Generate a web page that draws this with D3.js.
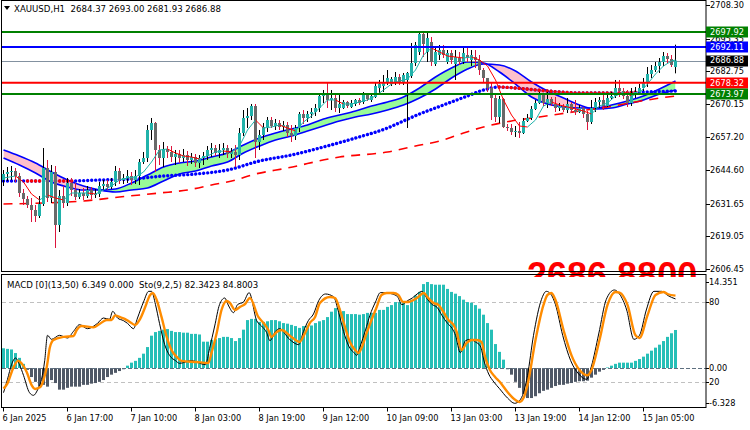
<!DOCTYPE html>
<html><head><meta charset="utf-8">
<script src="https://cdnjs.cloudflare.com/ajax/libs/d3/7.8.5/d3.min.js"></script>
<style>
html,body{margin:0;padding:0;background:#fff;}
svg{display:block;}
text{font-family:"DejaVu Sans",sans-serif;font-size:8.2px;white-space:pre;}
</style></head><body>
<svg id="chart" width="750" height="430"></svg>
<script>
// ---------------- DATA ----------------
const symbolTitle = "XAUUSD,H1  2684.37 2693.00 2681.93 2686.88";
const subTitle = "MACD [0](13,50) 6.349 0.000  Sto(9,2,5) 82.3423 84.8003";
const bigPriceText = "2686.8800";
const timeLabels = ["6 Jan 2025","6 Jan 17:00","7 Jan 10:00","8 Jan 03:00","8 Jan 19:00","9 Jan 12:00","10 Jan 09:00","13 Jan 03:00","13 Jan 19:00","14 Jan 12:00","15 Jan 05:00"];
const timeLabelBars = [0,16,32,48,64,80,96,112,128,144,160];
const priceTicks = [2708.30,2695.35,2682.75,2670.15,2657.20,2644.60,2631.65,2619.05,2606.45];
const levelPrices = [2697.92,2692.11,2678.32,2673.97];
const bidPrice = 2686.88;

const opens = [2640.79,2643.10,2643.87,2644.26,2642.33,2635.77,2633.46,2631.14,2629.21,2626.90,
2631.53,2645.42,2633.84,2643.87,2623.42,2634.61,2631.91,2639.63,2636.93,2634.23,
2635.77,2634.61,2636.93,2635.00,2635.39,2638.47,2639.24,2638.09,2640.01,2644.26,
2640.79,2641.56,2642.33,2640.79,2642.33,2647.73,2649.27,2660.08,2662.78,2652.36,
2649.27,2652.75,2651.59,2649.66,2650.82,2649.27,2650.43,2648.50,2649.66,2647.34,
2649.27,2650.05,2652.36,2653.13,2651.20,2652.36,2653.13,2650.82,2651.59,2650.43,
2658.92,2664.71,2665.48,2669.33,2655.45,2658.15,2661.23,2663.93,2661.62,2662.78,
2661.23,2662.00,2658.92,2657.76,2660.85,2666.25,2664.71,2666.25,2667.02,2668.56,
2673.19,2673.96,2671.65,2672.42,2668.56,2668.56,2670.88,2668.95,2670.11,2671.65,
2670.88,2673.58,2671.65,2672.81,2676.28,2677.05,2678.21,2677.82,2678.59,2680.52,
2678.21,2679.37,2680.91,2685.92,2690.17,2697.11,2690.17,2694.03,2685.54,2689.01,
2690.94,2686.31,2689.78,2685.54,2687.85,2686.31,2689.01,2687.08,2688.24,2687.08,
2683.22,2680.14,2676.28,2672.42,2665.09,2672.03,2661.23,2660.85,2659.30,2659.69,
2658.92,2663.55,2664.71,2668.18,2670.49,2673.58,2670.49,2672.03,2670.11,2668.56,
2669.33,2667.79,2670.11,2667.79,2667.02,2668.56,2666.25,2663.16,2668.56,2670.88,
2671.65,2669.33,2672.42,2673.19,2676.28,2675.12,2673.19,2670.49,2673.58,2674.74,
2676.28,2678.21,2681.68,2683.22,2684.77,2686.31,2688.62,2687.47,2684.37];
const highs = [2644.64,2645.80,2646.19,2645.42,2643.49,2637.31,2634.61,2633.84,2631.14,2634.61,
2653.13,2648.50,2646.57,2646.19,2636.93,2638.47,2641.56,2641.56,2639.63,2637.31,
2637.70,2638.47,2638.09,2637.31,2640.01,2640.79,2640.79,2641.56,2646.19,2645.42,
2643.10,2644.64,2643.87,2644.64,2648.89,2651.59,2662.00,2664.71,2663.16,2654.29,
2655.45,2653.90,2653.90,2652.36,2652.36,2652.75,2651.97,2651.20,2650.82,2650.43,
2651.59,2653.90,2655.06,2654.29,2654.67,2655.06,2654.29,2653.13,2654.29,2660.85,
2667.79,2668.56,2670.11,2670.11,2660.08,2662.78,2665.09,2665.09,2664.32,2663.93,
2663.55,2663.16,2662.00,2662.00,2667.02,2667.79,2667.40,2668.56,2670.11,2674.35,
2675.51,2678.21,2675.51,2674.35,2673.58,2671.65,2671.26,2671.65,2672.03,2672.42,
2674.74,2674.35,2673.96,2678.59,2679.37,2681.30,2683.22,2680.52,2682.45,2681.68,
2682.07,2682.45,2693.64,2694.03,2697.92,2697.50,2697.50,2695.96,2691.71,2692.87,
2692.87,2690.94,2690.94,2690.94,2690.17,2691.71,2691.71,2690.94,2690.94,2689.01,
2684.00,2680.14,2678.21,2674.35,2673.19,2672.42,2662.39,2662.39,2661.62,2663.16,
2664.71,2666.25,2669.33,2671.65,2674.74,2674.35,2674.74,2672.81,2672.81,2670.49,
2670.11,2672.42,2670.88,2671.65,2669.72,2668.95,2667.40,2671.65,2672.42,2672.81,
2673.58,2673.58,2674.74,2679.37,2679.37,2676.28,2675.51,2676.28,2676.66,2677.82,
2680.14,2684.38,2685.15,2686.31,2687.85,2690.17,2689.78,2689.01,2693.00];
const lows = [2638.47,2640.40,2640.79,2640.01,2634.23,2631.14,2629.98,2624.58,2624.58,2626.13,
2630.75,2632.30,2631.91,2614.56,2620.72,2629.98,2630.75,2634.61,2633.07,2633.46,
2633.07,2633.84,2633.46,2633.84,2634.23,2636.93,2636.93,2637.31,2638.47,2639.24,
2639.24,2639.63,2638.86,2639.24,2638.86,2646.96,2647.73,2656.22,2643.87,2646.57,
2645.80,2649.27,2647.73,2646.57,2647.34,2647.73,2646.19,2646.96,2645.80,2645.42,
2646.57,2648.50,2649.66,2650.05,2649.27,2650.43,2649.27,2649.27,2645.80,2648.50,
2657.76,2660.85,2663.93,2649.27,2652.36,2656.22,2659.30,2660.85,2660.08,2660.08,
2659.69,2657.38,2655.45,2656.22,2659.30,2662.39,2663.16,2664.71,2665.48,2667.02,
2670.49,2668.56,2667.79,2667.02,2666.63,2668.18,2668.56,2668.56,2669.33,2669.72,
2670.11,2671.26,2670.88,2672.42,2674.35,2674.74,2677.44,2677.05,2677.44,2677.44,
2677.44,2660.85,2680.14,2684.77,2689.01,2688.24,2686.31,2684.77,2684.77,2687.08,
2687.85,2685.54,2685.54,2679.37,2685.15,2685.54,2686.31,2684.77,2684.00,2681.30,
2678.59,2674.74,2663.93,2663.16,2662.78,2660.85,2659.69,2658.15,2657.38,2656.99,
2658.53,2663.16,2663.93,2667.79,2670.11,2669.33,2668.56,2669.33,2667.02,2667.40,
2667.02,2666.63,2666.63,2665.86,2666.63,2664.71,2660.08,2662.39,2667.02,2668.56,
2667.79,2668.95,2671.65,2672.42,2672.81,2672.03,2668.95,2669.33,2672.42,2673.58,
2675.12,2676.66,2680.14,2682.45,2682.07,2684.77,2685.92,2684.38,2681.93];
const closes = [2643.10,2643.87,2644.26,2642.33,2635.77,2633.46,2631.14,2629.21,2626.90,2631.53,
2645.42,2633.84,2643.87,2623.42,2634.61,2631.91,2639.63,2636.93,2634.23,2635.77,
2634.61,2636.93,2635.00,2635.39,2638.47,2639.24,2638.09,2640.01,2644.26,2640.79,
2641.56,2642.33,2640.79,2642.33,2647.73,2649.27,2660.08,2662.78,2652.36,2649.27,
2652.75,2651.59,2649.66,2650.82,2649.27,2650.43,2648.50,2649.66,2647.34,2649.27,
2650.05,2652.36,2653.13,2651.20,2652.36,2653.13,2650.82,2651.59,2650.43,2658.92,
2664.71,2665.48,2669.33,2655.45,2658.15,2661.23,2663.93,2661.62,2662.78,2661.23,
2662.00,2658.92,2657.76,2660.85,2666.25,2664.71,2666.25,2667.02,2668.56,2673.19,
2673.96,2671.65,2672.42,2668.56,2670.11,2670.88,2669.33,2670.49,2671.65,2670.49,
2673.96,2672.03,2673.19,2677.05,2677.82,2678.59,2680.14,2679.75,2680.52,2678.59,
2681.30,2682.07,2685.92,2692.87,2697.11,2693.25,2695.57,2686.31,2690.17,2690.94,
2689.01,2689.78,2687.08,2688.24,2686.31,2689.78,2687.85,2689.01,2687.08,2683.22,
2680.14,2676.28,2672.42,2665.09,2672.03,2661.23,2660.85,2659.30,2659.69,2658.92,
2663.55,2664.71,2668.18,2670.49,2673.58,2670.49,2672.03,2670.11,2668.56,2669.33,
2667.79,2670.11,2667.79,2667.02,2668.56,2666.25,2663.16,2668.56,2670.88,2671.65,
2669.33,2672.42,2673.19,2676.28,2675.12,2673.19,2670.49,2673.58,2674.74,2676.28,
2678.21,2681.68,2683.22,2684.77,2686.31,2688.62,2687.47,2685.15,2686.88];

// ribbon (fast / slow averages) sampled every 4 bars
const ribbonBars = [0,4,8,12,16,20,24,28,32,36,40,44,48,52,56,60,64,68,72,76,80,84,88,92,96,100,104,108,112,116,120,124,128,132,136,140,144,148,152,156,160,164,168];
const ribbonFast = [2649.27,2646.57,2643.49,2640.01,2638.09,2636.93,2636.93,2637.31,2639.63,2642.71,2645.80,2647.34,2648.12,2649.66,2651.20,2654.29,2656.99,2658.92,2660.46,2662.00,2664.32,2665.86,2667.40,2669.33,2670.88,2672.81,2676.28,2680.52,2684.00,2686.31,2685.92,2682.45,2677.82,2672.81,2670.11,2668.95,2668.56,2668.56,2669.72,2671.26,2673.19,2675.89,2678.98];
const ribbonSlow = [2652.36,2650.05,2647.34,2643.87,2640.79,2638.47,2636.93,2636.16,2636.93,2637.70,2640.40,2643.10,2644.26,2646.19,2647.73,2651.20,2653.90,2656.22,2657.76,2659.69,2661.62,2663.55,2665.09,2666.25,2667.79,2669.72,2672.42,2675.89,2680.14,2683.61,2685.54,2685.15,2682.84,2678.59,2675.12,2672.42,2669.72,2668.18,2668.56,2670.11,2671.65,2673.96,2675.51];

// dotted moving average
const dotBars = [0,8,16,24,32,40,48,56,64,72,80,88,96,100,104,108,112,116,120,124,128,136,144,152,160,168];
const dotValues = [2640.40,2640.40,2640.40,2640.79,2641.17,2642.33,2643.10,2644.64,2648.12,2650.43,2653.52,2656.99,2660.85,2663.55,2666.25,2668.56,2670.88,2673.19,2675.51,2676.66,2676.28,2675.12,2674.35,2674.35,2674.74,2675.12];
const dotFallingFrom = [6,124];
const dotFallingTo = [17,158];

// long dashed moving average
const dashBars = [0,10,20,29,39,46,52,58,62,71,84,96,103,110,115,120,127,134,144,151,158,166,168];
const dashValues = [2631.53,2631.91,2632.68,2634.23,2635.77,2636.93,2638.86,2640.79,2642.71,2645.42,2649.66,2651.59,2653.90,2656.22,2658.92,2661.23,2663.55,2665.09,2667.40,2668.95,2670.88,2672.81,2673.19];

// thin fast average
const thinBars = [0,3,5,7,9,11,13,15,17,19,21,23,25,27,29,31,33,35,37,39,41,43,45,47,49,51,53,55,57,59,61,63,65,67,69,71,73,75,77,79,81,83,85,87,89,91,93,95,97,99,101,103,105,107,109,111,113,115,117,119,121,123,125,127,129,131,133,135,137,139,141,143,145,147,149,151,153,155,157,159,161,163,165,167,168];
const thinValues = [2641.56,2642.33,2640.01,2635.39,2633.07,2635.00,2633.84,2633.07,2635.77,2635.77,2635.77,2635.39,2636.93,2638.47,2640.79,2641.56,2641.94,2643.87,2647.73,2652.36,2652.75,2651.20,2650.05,2649.66,2648.89,2650.05,2651.59,2651.97,2651.59,2653.90,2660.08,2663.93,2660.85,2661.23,2662.00,2660.85,2659.69,2663.16,2665.48,2668.56,2671.65,2671.65,2670.11,2670.11,2670.88,2671.65,2673.19,2675.51,2677.82,2678.98,2679.75,2683.22,2689.01,2691.71,2690.17,2688.62,2688.24,2687.85,2688.24,2687.08,2684.77,2679.37,2671.65,2665.86,2661.62,2661.23,2663.93,2669.33,2670.88,2669.72,2668.95,2668.18,2667.40,2666.25,2669.33,2670.49,2673.19,2674.74,2673.19,2674.35,2677.82,2681.68,2684.77,2686.70,2687.08];

// MACD histogram, one value per bar
const macd = [3.3,3.2,3.1,2.5,1.7,0.7,-0.3,-1.5,-2.3,-3.1,
-2.8,-3.1,-2.0,-2.5,-3.6,-3.6,-3.3,-3.1,-3.1,-3.1,
-2.8,-2.8,-2.6,-2.5,-2.3,-2.0,-1.5,-1.1,-0.8,-0.5,
-0.2,0.4,0.9,1.2,1.7,2.4,3.5,5.4,6.0,6.2,
6.4,6.5,6.2,6.0,6.0,5.9,5.9,5.7,5.7,5.6,
4.4,4.4,4.7,4.8,5.0,5.2,5.2,5.0,4.5,5.0,
6.4,8.0,8.2,8.2,7.7,7.7,7.8,8.0,8.0,7.8,
7.5,7.4,7.2,7.0,6.7,7.0,7.1,7.1,7.5,7.8,
8.0,8.5,9.4,10.0,9.9,9.5,9.0,9.0,9.0,8.9,
9.0,9.2,9.2,9.2,9.7,9.7,10.2,10.5,11.0,11.0,
10.9,10.5,11.4,12.1,12.7,14.0,14.35,14.0,13.9,13.9,
13.9,13.2,12.7,12.4,12.0,11.4,11.0,10.9,10.5,9.9,
8.9,7.5,6.4,4.0,2.7,1.4,-0.2,-1.1,-2.3,-3.3,
-4.3,-5.0,-5.0,-4.7,-4.2,-3.8,-3.6,-3.3,-3.0,-2.8,
-2.8,-2.6,-2.5,-2.3,-2.2,-2.2,-2.1,-1.6,-1.1,-0.6,
-0.3,0.1,0.4,0.7,0.9,0.9,0.9,0.9,1.2,1.5,
1.9,2.4,2.9,3.4,3.9,4.5,5.2,5.8,6.349];

// Stochastic signal (orange) and main (black)
const stoSignalBars = [0,1,2.5,3.7,4.5,5.8,7,7.9,9.1,10,10.8,11.6,12.5,15,17.5,18.3,19.5,22.5,24,25.8,27,27.9,29,30.4,31.6,32.9,34.1,35.4,36.6,37.3,38.3,39.5,40.8,42,43.3,44.5,48.3,51.2,52,53.3,54.5,55.8,56.6,57.9,59.1,60.4,61.6,63.7,65,66.2,67,68.3,69.5,72,74,75.4,76.6,77.9,79.1,81.6,82.9,84.1,85.4,86.6,87.9,88.7,89.5,90.8,92,93.3,94.5,95.8,97.5,98.7,99.9,101.2,102.5,103.7,105,106.2,107.5,108.7,110,111.2,112.5,113.3,114.5,115.8,117,118.3,119.5,120.4,121.6,122.9,124.1,126,128,129,130,131,133,135,136,137,138,140,142,144,146,147,149,151,153,154,156,158,159,161,163,165,166,168];
const stoSignal = [15,19,31,36,34,27.5,17.8,14.8,16,21.5,31,46,51.5,53.8,54.5,59,62,61,63.5,66.5,66.5,70,68.8,67.2,65,62.8,67,76,85,86.8,81.5,68.8,53.8,44,38.8,35.8,35,34.3,41.8,56.8,74,80.8,79.3,74,76.3,78.5,83,68.8,64.3,59,53.8,57.5,59,53.8,50,56.8,64.3,68.8,79.3,83.8,83,74,61,50,44,41.8,45.5,56.8,66.5,76.3,85.3,86.8,86.8,85.3,80,80,81.5,83.8,86.8,83,79.3,77.8,72.5,66.5,62.8,57.5,44,49.3,51.5,51.5,50,38.8,29,23.8,20,12.5,6.5,5,8,17.8,51.5,77.8,85.3,86.8,81.5,59,40,29,25,29,51.5,77.8,87.5,87,77.8,55,53,70,85.3,87.5,86,84.8];
const stoMainBars = [0,1,2,3,4,5,6.5,7.5,8.5,9.5,10.3,11,12,14,16,17.5,19,21,23.5,25,26.5,27.3,28.5,30,31,32.5,33.5,35,36.3,37,38,39,40.3,41.5,43,44,47,50.5,51.5,52.8,54,55.3,56.3,57.5,58.5,60,61.4,63.3,64.5,65.8,66.6,68,69,71.5,73.8,75,76.2,77.5,78.8,80.5,82.5,83.8,85,86.3,87.6,88.3,89.2,90.5,91.6,93,94.2,95.5,97.2,98.5,99.6,101,102.2,103.4,104.6,106,107.2,108.4,109.6,111,112.2,113,114.2,115.5,116.7,118,119.2,120.2,121.3,122.6,124,126,127.8,129,130,131,132.5,134.5,135.7,136.8,138,139.8,141.8,143.8,145.8,147,148.8,150.7,152.7,154,155.8,157.6,159,160.7,162.6,164.6,166,168];
const stoMain = [12,22,33,38,33,25,12,10,14,22,36,55,52,55,53,58,63,60,64,68,67,73,68,66,64,60,68,80,88,88,78,64,48,40,36,34,36,33,45,62,78,83,77,72,78,80,87,66,62,57,51,58,60,52,48,58,66,71,81,86,84,72,58,47,42,40,47,59,70,80,87,87,86,84,78,81,83,86,88,82,78,76,70,64,60,55,42,51,52,50,47,35,26,20,15,8,4,6,12,25,55,82,88,86,78,55,36,26,22,32,56,82,89,86,74,52,55,74,88,88,85,82.3];

// ---------------- STYLE ----------------
const C = {
  bullBody:"#20b2aa", bearBody:"#696969", bullWick:"#000000", bearWick:"#dc143c",
  ribbonUp:"#98fb98", ribbonDown:"#ffc0cb", ribbonLine:"#0000ff",
  dot:"#0000ff", dotDown:"#ff0000", dash:"#ff0000", thinUp:"#20b2aa", thinDown:"#ff0000",
  histPos:"#26bfb7", histNeg:"#4f5866", stoMain:"#000000", stoSig:"#ff8c00"
};
const levelColors = ["#008000","#0000ff","#ff0000","#008000"];

// ---------------- LAYOUT ----------------
const svg = d3.select("#chart");
const L = 2, R = 706, mainTop = 0.5, mainBot = 271.5, subTop = 274.5, subBot = 407.5;
const x = d3.scaleLinear().domain([0,168]).range([3.5,675.5]);
const y = d3.scaleLinear().domain([2606.45,2708.30]).range([269,5]);
const ym = d3.scaleLinear().domain([-6.328,14.351]).range([406,282]);
const ys = d3.scaleLinear().domain([0,100]).range([408.67,275.33]);

svg.append("rect").attr("width",750).attr("height",430).attr("fill","#fff");
const defs = svg.append("defs");
defs.append("clipPath").attr("id","clipMain").append("rect").attr("x",L).attr("y",1).attr("width",R-L).attr("height",mainBot-1);
defs.append("clipPath").attr("id","clipSub").append("rect").attr("x",L).attr("y",subTop+0.5).attr("width",R-L).attr("height",subBot-subTop-1);
defs.append("clipPath").attr("id","clipBig").append("rect").attr("x",L).attr("y",261).attr("width",R-L).attr("height",16);

const curve = d3.curveMonotoneX;
const ribPts = ribbonBars.map((b,i)=>({b, f:ribbonFast[i], s:ribbonSlow[i]}));
defs.append("clipPath").attr("id","aboveSlow").append("path")
  .attr("d", d3.area().x(d=>x(d.b)).y0(0).y1(d=>y(d.s)).curve(curve)(ribPts));
defs.append("clipPath").attr("id","belowSlow").append("path")
  .attr("d", d3.area().x(d=>x(d.b)).y0(300).y1(d=>y(d.s)).curve(curve)(ribPts));
dotFallingFrom.forEach((f,k)=>{
  defs.append("clipPath").attr("id","dotRed"+k).append("rect")
    .attr("x",x(f)-2).attr("y",0).attr("width",x(dotFallingTo[k])-x(f)+4).attr("height",272);
});

const gMain = svg.append("g").attr("clip-path","url(#clipMain)");
const band = d3.area().x(d=>x(d.b)).y0(d=>y(d.s)).y1(d=>y(d.f)).curve(curve);
gMain.append("g").attr("clip-path","url(#aboveSlow)").append("path").attr("d",band(ribPts)).attr("fill",C.ribbonUp);
gMain.append("g").attr("clip-path","url(#belowSlow)").append("path").attr("d",band(ribPts)).attr("fill",C.ribbonDown);
const lineF = d3.line().x(d=>x(d.b)).y(d=>y(d.f)).curve(curve);
const lineS = d3.line().x(d=>x(d.b)).y(d=>y(d.s)).curve(curve);
gMain.append("path").attr("d",lineS(ribPts)).attr("fill","none").attr("stroke",C.ribbonLine).attr("stroke-width",1.6);
gMain.append("path").attr("d",lineF(ribPts)).attr("fill","none").attr("stroke",C.ribbonLine).attr("stroke-width",1.6);

const dashPts = dashBars.map((b,i)=>({b,v:dashValues[i]}));
const lineV = d3.line().x(d=>x(d.b)).y(d=>y(d.v)).curve(curve);
gMain.append("path").attr("d",lineV(dashPts)).attr("fill","none").attr("stroke",C.dash)
  .attr("stroke-width",1.6).attr("stroke-dasharray","9,7");

const dotPts = dotBars.map((b,i)=>({b,v:dotValues[i]}));
gMain.append("path").attr("d",lineV(dotPts)).attr("fill","none").attr("stroke",C.dot)
  .attr("stroke-width",3.4).attr("stroke-linecap","round").attr("stroke-dasharray","0.01,4");
dotFallingFrom.forEach((f,k)=>{
  gMain.append("g").attr("clip-path",`url(#dotRed${k})`).append("path").attr("d",lineV(dotPts)).attr("fill","none")
    .attr("stroke",C.dotDown).attr("stroke-width",3.4).attr("stroke-linecap","round").attr("stroke-dasharray","0.01,4");
});

gMain.append("line").attr("x1",L).attr("x2",R).attr("y1",Math.round(y(bidPrice))+0.5).attr("y2",Math.round(y(bidPrice))+0.5)
  .attr("stroke","#8391a0").attr("stroke-width",1);

const bars = opens.map((o,i)=>({i,o,h:highs[i],l:lows[i],c:closes[i]}));
gMain.append("g").selectAll("line").data(bars).join("line")
  .attr("x1",d=>x(d.i)).attr("x2",d=>x(d.i)).attr("y1",d=>y(d.h)).attr("y2",d=>y(d.l))
  .attr("stroke",d=>d.c>=d.o?C.bullWick:C.bearWick).attr("stroke-width",1);
gMain.append("g").selectAll("rect").data(bars).join("rect")
  .attr("x",d=>x(d.i)-1.5).attr("width",3)
  .attr("y",d=>y(Math.max(d.o,d.c))).attr("height",d=>Math.max(1,Math.abs(y(d.o)-y(d.c))))
  .attr("fill",d=>d.c>=d.o?C.bullBody:C.bearBody);

const thinPts = thinBars.map((b,i)=>({b,v:thinValues[i]}));
gMain.append("g").selectAll("line").data(d3.pairs(thinPts)).join("line")
  .attr("x1",d=>x(d[0].b)).attr("y1",d=>y(d[0].v)).attr("x2",d=>x(d[1].b)).attr("y2",d=>y(d[1].v))
  .attr("stroke",d=>d[1].v>=d[0].v?C.thinUp:C.thinDown).attr("stroke-width",1);

gMain.append("g").selectAll("line").data(levelPrices).join("line")
  .attr("x1",L).attr("x2",R).attr("y1",d=>y(d)).attr("y2",d=>y(d))
  .attr("stroke",(d,i)=>levelColors[i]).attr("stroke-width",2);

// big price label, mostly hidden below the main window
svg.append("g").attr("clip-path","url(#clipBig)").append("text")
  .attr("x",527).attr("y",288).attr("fill","#ff0000")
  .style("font-family","'Liberation Sans',Arial,sans-serif").style("font-weight","bold").style("font-size","36px")
  .text(bigPriceText);

// ---------------- SUB PANEL ----------------
const gSub = svg.append("g").attr("clip-path","url(#clipSub)");
[80,20].forEach(v=>{
  gSub.append("line").attr("x1",L).attr("x2",R).attr("y1",Math.round(ys(v))+0.5).attr("y2",Math.round(ys(v))+0.5)
    .attr("stroke","#c0c0c0").attr("stroke-dasharray","4,3");
});
gSub.append("g").selectAll("rect").data(macd.map((v,i)=>({i,v}))).join("rect")
  .attr("x",d=>x(d.i)-1.5).attr("width",3)
  .attr("y",d=>Math.min(ym(0),ym(d.v))).attr("height",d=>Math.abs(ym(d.v)-ym(0)))
  .attr("fill",d=>d.v>=0?C.histPos:C.histNeg);
gSub.append("line").attr("x1",L).attr("x2",R).attr("y1",Math.round(ym(0))+0.5).attr("y2",Math.round(ym(0))+0.5)
  .attr("stroke","#5f7080").attr("stroke-dasharray","4,2");
const sLine = d3.line().x(d=>x(d.b)).y(d=>ys(d.v)).curve(d3.curveMonotoneX);
gSub.append("path").attr("d",sLine(stoMainBars.map((b,i)=>({b,v:stoMain[i]})))).attr("fill","none")
  .attr("stroke",C.stoMain).attr("stroke-width",1);
gSub.append("path").attr("d",sLine(stoSignalBars.map((b,i)=>({b,v:stoSignal[i]})))).attr("fill","none")
  .attr("stroke",C.stoSig).attr("stroke-width",2.4);

// ---------------- FRAMES ----------------
const frame = svg.append("g").attr("fill","none").attr("stroke","#000").attr("stroke-width",1);
frame.append("rect").attr("x",1.5).attr("y",mainTop).attr("width",R-1.5).attr("height",mainBot-mainTop);
frame.append("rect").attr("x",1.5).attr("y",subTop).attr("width",R-1.5).attr("height",subBot-subTop);

const axisG = svg.append("g");
priceTicks.forEach(p=>{
  const yy = Math.round(y(p))+0.5;
  axisG.append("line").attr("x1",R).attr("x2",R+4).attr("y1",yy).attr("y2",yy).attr("stroke","#000");
  axisG.append("text").attr("x",R+4).attr("y",yy).attr("dy","0.35em").attr("fill","#000").text(p.toFixed(2));
});
const tags = [{p:levelPrices[0],c:levelColors[0]},{p:levelPrices[1],c:levelColors[1]},{p:bidPrice,c:"#000000"},{p:levelPrices[2],c:levelColors[2]},{p:levelPrices[3],c:levelColors[3]}];
tags.forEach(t=>{
  const yy = y(t.p);
  axisG.append("rect").attr("x",R).attr("y",Math.round(yy)-5.5).attr("width",42).attr("height",11).attr("fill",t.c);
  axisG.append("text").attr("x",R+4).attr("y",yy).attr("dy","0.35em").attr("fill","#fff").text(t.p.toFixed(2));
});
const subLabels = [{v:ym(14.351),t:"14.351"},{v:ys(80),t:"80"},{v:ym(0),t:"0.00"},{v:ys(20),t:"20"},{v:ym(-6.328)-3,t:"-6.328"}];
subLabels.forEach(s=>{
  axisG.append("line").attr("x1",R).attr("x2",R+3).attr("y1",Math.round(s.v)+0.5).attr("y2",Math.round(s.v)+0.5).attr("stroke","#000");
  axisG.append("text").attr("x",R+3).attr("y",s.v).attr("dy","0.35em").attr("fill","#000").text(s.t);
});

const tG = svg.append("g");
timeLabelBars.forEach((b,i)=>{
  const xx = x(b);
  tG.append("line").attr("x1",xx).attr("x2",xx).attr("y1",subBot).attr("y2",subBot+4).attr("stroke","#000");
  tG.append("text").attr("x",xx-1).attr("y",418).attr("dy","0.35em").attr("fill","#000").text(timeLabels[i]);
});

svg.append("path").attr("d","M4,6 L10,6 L7,10 Z").attr("fill","#000");
svg.append("text").attr("x",14).attr("y",9).attr("dy","0.35em").attr("fill","#000").style("font-size","8.6px").text(symbolTitle);
svg.append("text").attr("x",7).attr("y",285).attr("dy","0.35em").attr("fill","#000").style("font-size","8.6px").text(subTitle);
</script>
</body></html>
